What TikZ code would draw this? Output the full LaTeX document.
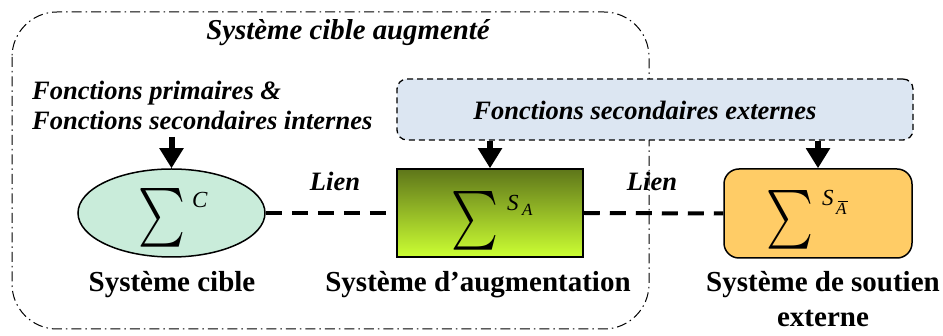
\documentclass[tikz,border=0pt]{standalone}
\usepackage{fontspec}
\setmainfont{Liberation Serif}
\usepackage{graphicx}
\usetikzlibrary{arrows.meta,shapes.geometric}
\definecolor{mint}{HTML}{C9ECDA}
\definecolor{paleblue}{HTML}{DCE6F2}
\definecolor{orangefill}{HTML}{FFCC66}
\definecolor{olivetop}{HTML}{5E761A}
\definecolor{limebot}{HTML}{CCFF33}
\newcommand{\bigsigma}{\resizebox{47pt}{44pt}{$\textstyle\sum$}}
\tikzset{
  outerbox/.style={draw, line width=1pt, dash pattern=on 10pt off 4pt on 1.5pt off 4pt, rounded corners=45pt},
  ellbox/.style={ellipse, draw, line width=1.5pt, fill=mint, minimum width=187pt, minimum height=88pt, inner sep=0pt},
  augbox/.style={rectangle, draw, line width=1.5pt, top color=olivetop, bottom color=limebot, minimum width=186pt, minimum height=88pt, inner sep=0pt},
  extbox/.style={rectangle, draw, line width=1.5pt, rounded corners=15pt, fill=orangefill, minimum width=188pt, minimum height=89pt, inner sep=0pt},
  funcbox/.style={rectangle, draw, line width=1.3pt, dash pattern=on 6pt off 4pt, rounded corners=10pt, fill=paleblue, minimum width=516pt, minimum height=61pt, inner sep=0pt},
  bigarrow/.style={line width=6pt, -{Triangle[width=23pt,length=20pt]}},
  linkline/.style={line width=4pt, dash pattern=on 16pt off 10pt},
  sumsym/.style={inner sep=0pt},
  supsym/.style={inner sep=0pt, anchor=base west, font=\fontsize{23}{23}\selectfont\itshape},
  subsym/.style={inner sep=0pt, anchor=base west, font=\fontsize{17}{17}\selectfont\itshape},
  biglabel/.style={inner sep=0pt, anchor=base, font=\fontsize{29}{35}\selectfont\bfseries},
  itlabel/.style={inner sep=0pt, anchor=base, font=\fontsize{26.5}{30}\selectfont\bfseries\itshape},
}
\begin{document}
\begin{tikzpicture}[x=1pt,y=-1pt]
\useasboundingbox (0,0) rectangle (943,336);
% outer dash-dot region
\draw[outerbox] (12,12) rectangle (649,329);
\node[inner sep=0pt, anchor=base, font=\fontsize{28.8}{30}\selectfont\bfseries\itshape] (title) at (348,40) {Système cible augmenté};

% main shapes
\node[ellbox] (cib) at (171.5,213) {};
\node[augbox] (aug) at (490,213) {};
\node[extbox] (ext) at (818,213.5) {};
\node[funcbox] (fse) at (655,109.5) {};
\node[itlabel] (fsetext) at (645,120) {Fonctions secondaires externes};

% function labels
\node[itlabel, anchor=base west] (fp1) at (32,100) {Fonctions primaires \&};
\node[itlabel, anchor=base west] (fp2) at (32,130) {Fonctions secondaires internes};
\coordinate (a1) at (171.5,137);

% arrows
\draw[bigarrow] (a1) -- (cib.north);
\draw[bigarrow] (aug.north |- fse.south) -- (aug.north);
\draw[bigarrow] (ext.north |- fse.south) -- (ext.north);

% links
\draw[linkline] (cib.east) -- (aug.west);
\draw[linkline] (aug.east) -- (ext.west);
\node[itlabel] (lien1) at (335,191) {Lien};
\node[itlabel] (lien2) at (652,191) {Lien};

% sigma symbols
\node[sumsym] (sg1) at (162,218) {\bigsigma};
\node[supsym] (supC) at (192,208) {C};
\node[sumsym] (sg2) at (474.5,221) {\bigsigma};
\node[supsym] (supS1) at (507,211) {S};
\node[subsym] (subA1) at (522,216) {A};
\node[sumsym] (sg3) at (789.5,220) {\bigsigma};
\node[supsym] (supS2) at (822,206) {S};
\node[subsym] (subA2) at (836,215) {A};
\draw[line width=0.8pt] (subA2.north west) ++(1.5,-2.5) -- ++(10,0);

% bottom labels
\node[biglabel] (l1) at (172,292) {Système cible};
\node[biglabel] (l2) at (478,292) {Système d’augmentation};
\node[biglabel] (l3) at (823,292) {Système de soutien};
\node[biglabel] (l3b) at (823,327) {externe};
\end{tikzpicture}
\end{document}
